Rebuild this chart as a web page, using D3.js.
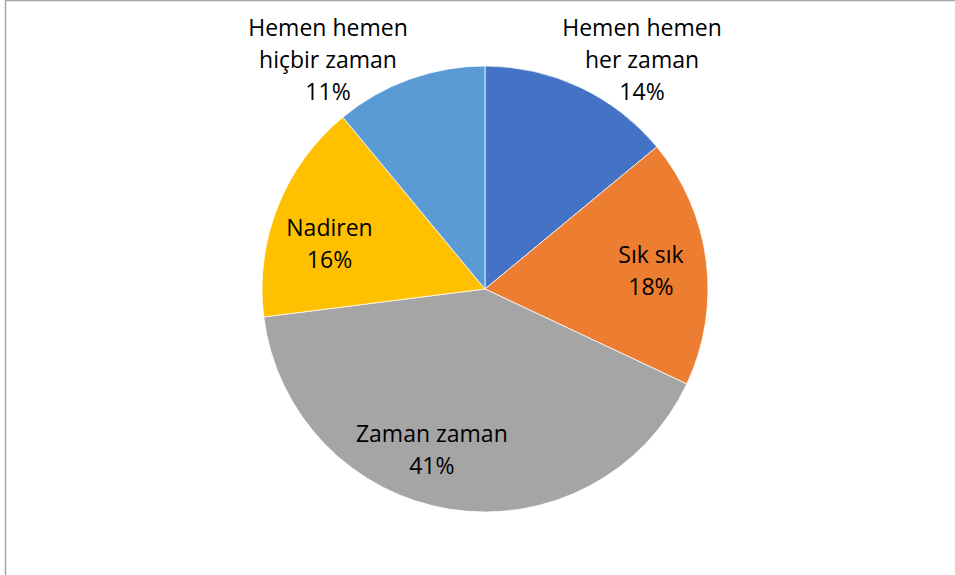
<!DOCTYPE html>
<meta charset="utf-8">
<style>
body { margin: 0; background: #fff; }
text {
  font-family: "Open Sans", sans-serif;
  font-size: 23px;
  fill: #000;
}
</style>
<svg width="955" height="575"></svg>
<script src="https://d3js.org/d3.v7.min.js"></script>
<script>

var categories = ["Hemen hemen her zaman", "Sık sık", "Zaman zaman", "Nadiren", "Hemen hemen hiçbir zaman"];
var labelLines = [["Hemen hemen", "her zaman"], ["Sık sık"], ["Zaman zaman"], ["Nadiren"], ["Hemen hemen", "hiçbir zaman"]];
var values = [14, 18, 41, 16, 11];
var colors = ["#4472C4", "#ED7D31", "#A5A5A5", "#FFC000", "#5B9BD5"];

var svg = d3.select("svg"),
    width = +svg.attr("width"),
    height = +svg.attr("height");

var CX = 485, CY = 289, R = 223;
var LINE = 32;

// chart frame (only left and top edges visible in the picture)
svg.append("rect")
    .attr("x", 5.5).attr("y", 0.5)
    .attr("width", width + 10).attr("height", height + 10)
    .attr("fill", "none")
    .attr("stroke", "#a6a6a6")
    .attr("stroke-width", 1.5);

var pie = d3.pie().sort(null).value(function(d) { return d; });
var arcs = pie(values);

var arc = d3.arc().innerRadius(0).outerRadius(R);

var g = svg.append("g").attr("transform", "translate(" + CX + "," + CY + ")");

/************* SLICES ***************/
g.selectAll("path.slice")
    .data(arcs)
  .enter().append("path")
    .attr("class", "slice")
    .attr("d", arc)
    .attr("fill", function(d, i) { return colors[i]; })
    .attr("stroke", "#fff")
    .attr("stroke-width", 0.75);

/************* LABELS ***************/
// small slices get their label outside (best fit), the rest inside
var insideArc = d3.arc().innerRadius(R * 0.75).outerRadius(R * 0.75);

function labelPos(d, i) {
  var mid = (d.startAngle + d.endAngle) / 2;
  if (d.value <= 14) {
    // outside: pushed up over the top of the pie, away from the centre line
    var side = Math.sin(mid) > 0 ? 1 : -1;
    return [side * 157, -R - 6];
  }
  var c = insideArc.centroid(d);
  var nudge = { 1: [0, 3], 2: [-27, -4], 3: [0, 17] }[i] || [0, 0];
  return [c[0] + nudge[0], c[1] + nudge[1]];
}

var labels = g.selectAll("text.label")
    .data(arcs)
  .enter().append("text")
    .attr("class", "label")
    .attr("text-anchor", "middle")
    .attr("transform", function(d, i) {
      var p = labelPos(d, i);
      return "translate(" + p[0] + "," + p[1] + ")";
    });

labels.each(function(d, i) {
  var t = d3.select(this);
  var lines = labelLines[i].concat([d3.format(".0%")(values[i] / d3.sum(values))]);
  var top = -(lines.length - 1) * LINE / 2;
  lines.forEach(function(s, k) {
    t.append("tspan")
        .attr("x", 0)
        .attr("y", top + k * LINE)
        .attr("dy", "0.35em")
        .text(s);
  });
});

</script>
